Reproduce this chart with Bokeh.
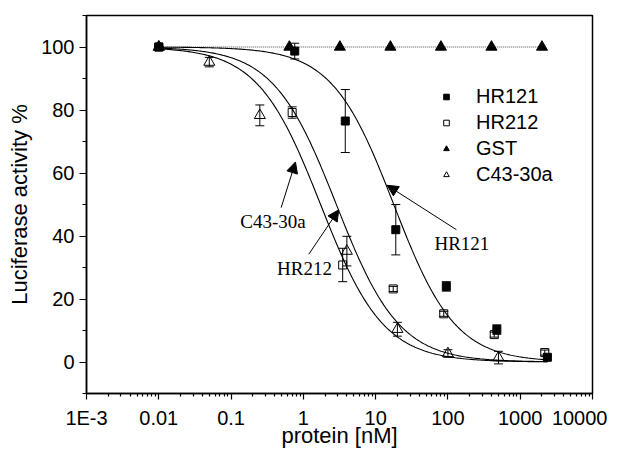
import numpy as np
from bokeh.plotting import figure
from bokeh.models import (ColumnDataSource, Whisker, TeeHead, FixedTicker, CustomJSTickFormatter,
                          Legend, LegendItem, Arrow, NormalHead, Label, Range1d)
from bokeh.embed import file_html
from bokeh.resources import INLINE

# ---------------- data ----------------
hr121_x = [0.01, 0.76, 3.8, 19, 95, 475, 2375]
hr121_y = [100, 98.7, 76.5, 42.0, 24.0, 10.3, 1.5]
hr121_err = [0, 2.5, 10.0, 8.0, 1.5, 1.5, 0.5]

hr212_x = [0.01, 0.7, 3.5, 17.5, 87.5, 437.5, 2187]
hr212_y = [100, 79.2, 30.8, 23.2, 15.3, 8.7, 3.0]
hr212_err = [0, 1.8, 5.3, 0.8, 0.8, 0.8, 0.8]

gst_x = [0.01, 0.64, 3.2, 16, 80, 400, 2000]
gst_y = [100, 100, 100, 100, 100, 100, 100]

c43_x = [0.01, 0.05, 0.25, 4, 20, 100, 500]
c43_y = [100, 95.2, 78.3, 35.2, 10.4, 2.7, 1.4]
c43_err = [0, 1.5, 3.3, 4.7, 2.2, 1.2, 2.0]

# fitted dose-response curves: IC50 (nM) and Hill slope
hr121_ic50, hr121_hill = 17.8, 1.02
hr212_ic50, hr212_hill = 2.86, 1.0
c43_ic50, c43_hill = 1.73, 1.0
fit_x_min, fit_x_max = 0.01, 2400

# annotation arrows (data coordinates)
ann_text = ["C43-30a", "HR212", "HR121"]
ann_text_x = [0.381, 1.035, 156]
ann_text_y = [44.5, 29.7, 37.5]
arrow_x0 = [0.493, 1.188, 131]
arrow_y0 = [49.0, 34.2, 42.0]
arrow_x1 = [0.778, 3.09, 14.4]
arrow_y1 = [63.5, 48.3, 56.1]

x_major = [1e-3, 1e-2, 1e-1, 1, 10, 100, 1000, 10000]
y_major = [0, 20, 40, 60, 80, 100]
y_minor = [-10, 10, 30, 50, 70, 90, 110]

# ---------------- figure ----------------
p = figure(width=607, height=450, x_axis_type="log",
           x_range=Range1d(1e-3, 1e4), y_range=Range1d(-10, 110),
           output_backend="svg", toolbar_location=None,
           min_border_left=86, min_border_right=15, min_border_top=15, min_border_bottom=56)
p.xgrid.visible = False
p.ygrid.visible = False
p.outline_line_color = "black"
p.outline_line_width = 1.5
p.background_fill_color = "white"

x_minor = [k * d for d in x_major[:-1] for k in range(2, 10)]
p.xaxis.ticker = FixedTicker(ticks=x_major, minor_ticks=x_minor)
p.xaxis.formatter = CustomJSTickFormatter(code="""
const e = Math.round(Math.log10(tick));
if (e <= -3) return '1E-3';
if (e < 0) return Math.pow(10, e).toFixed(-e);
return Math.pow(10, e).toFixed(0);
""")
p.yaxis.ticker = FixedTicker(ticks=y_major, minor_ticks=y_minor)

for ax in (p.xaxis, p.yaxis):
    ax.axis_line_width = 1.5
    ax.major_tick_line_width = 1.2
    ax.minor_tick_line_width = 1.2
    ax.major_tick_in = 0
    ax.minor_tick_in = 0
    ax.major_label_text_font = "Liberation Sans"
    ax.major_label_text_font_size = "20px"
    ax.major_label_text_color = "black"
    ax.axis_label_text_font = "Liberation Sans"
    ax.axis_label_text_font_size = "22px"
    ax.axis_label_text_font_style = "normal"
    ax.axis_label_text_color = "black"

p.xaxis.major_tick_out = 6
p.xaxis.minor_tick_out = 3
p.xaxis.major_label_standoff = 7
p.xaxis.axis_label_standoff = -9
p.xaxis.axis_label = "protein [nM]"

p.yaxis.major_tick_out = 7
p.yaxis.minor_tick_out = 4
p.yaxis.major_label_standoff = 5
p.yaxis.axis_label_standoff = 6
p.yaxis.axis_label = "Luciferase activity %"

# fitted curves
xf = np.logspace(np.log10(fit_x_min), np.log10(fit_x_max), 300)
for ic50, hill in [(hr121_ic50, hr121_hill), (hr212_ic50, hr212_hill), (c43_ic50, c43_hill)]:
    yf = 100.0 / (1.0 + (xf / ic50) ** hill)
    p.line(xf, yf, line_color="black", line_width=1.1)

# GST dotted connection
p.line(gst_x, gst_y, line_color="black", line_width=1, line_dash="1 1", line_alpha=0.7)

# error bars
def add_err(xs, ys, es):
    src = ColumnDataSource(dict(x=xs, lo=[y - e for y, e in zip(ys, es)],
                                hi=[y + e for y, e in zip(ys, es)]))
    w = Whisker(base="x", lower="lo", upper="hi", source=src, dimension="height",
                line_color="black", line_width=1,
                upper_head=TeeHead(size=9, line_color="black", line_width=1),
                lower_head=TeeHead(size=9, line_color="black", line_width=1))
    p.add_layout(w)

add_err(hr121_x, hr121_y, hr121_err)
add_err(hr212_x, hr212_y, hr212_err)
add_err(c43_x, c43_y, c43_err)

r1 = p.scatter(hr121_x, hr121_y, marker="square", size=8, fill_color="black", line_color="black")
r2 = p.scatter(hr212_x, hr212_y, marker="square", size=8, fill_alpha=0, line_color="black", line_width=1)
r3 = p.scatter(gst_x, gst_y, marker="triangle", size=11, fill_color="black", line_color="black")
r4 = p.scatter(c43_x, c43_y, marker="triangle", size=11, fill_alpha=0, line_color="black", line_width=1)

legend = Legend(items=[LegendItem(label="HR121", renderers=[r1]),
                       LegendItem(label="HR212", renderers=[r2]),
                       LegendItem(label="GST", renderers=[r3]),
                       LegendItem(label="C43-30a", renderers=[r4])],
                location=(353, 206), orientation="vertical", padding=0, margin=0, spacing=1,
                glyph_width=14, glyph_height=25, label_height=25, label_standoff=23,
                label_text_font="Liberation Sans", label_text_font_size="20px",
                label_text_color="black",
                border_line_alpha=0, background_fill_alpha=0)
p.add_layout(legend)

for t, tx, ty, x0, y0, x1, y1 in zip(ann_text, ann_text_x, ann_text_y, arrow_x0, arrow_y0, arrow_x1, arrow_y1):
    p.add_layout(Arrow(end=NormalHead(size=11, fill_color="black", line_color="black", line_width=1),
                       x_start=x0, y_start=y0, x_end=x1, y_end=y1,
                       line_color="black", line_width=1))
    p.add_layout(Label(x=tx, y=ty, text=t, text_font="Liberation Serif", text_font_size="19px",
                       text_align="center", text_baseline="middle", text_color="black"))

open("out.html", "w").write(file_html(p, INLINE))
